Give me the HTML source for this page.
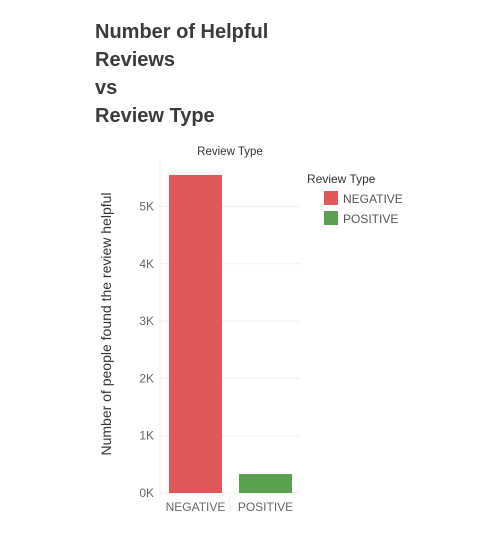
<!DOCTYPE html>
<html><head><meta charset="utf-8"><style>
body{margin:0;background:#fff;width:502px;height:534px;overflow:hidden;font-family:"Liberation Sans",sans-serif}
</style></head><body>
<svg width="502" height="534">
<g font-size="20" font-weight="bold" fill="#3a3a3a">
<text x="95" y="38">Number of Helpful</text>
<text x="95" y="66">Reviews</text>
<text x="95" y="94">vs</text>
<text x="95" y="122">Review Type</text>
</g>
<text x="230" y="155" font-size="11.5" text-anchor="middle" fill="#333">Review Type</text>
<text transform="translate(111,324) rotate(-90)" font-size="14" text-anchor="middle" fill="#333">Number of people found the review helpful</text>
<g id="grid"></g><g id="bars"></g><g id="ticks"></g>
<line x1="160" y1="160" x2="160" y2="500" stroke="#eee"/>
<line x1="230" y1="496" x2="230" y2="512" stroke="#eee"/>
<g>
<text x="307" y="183" font-size="12" fill="#333">Review Type</text>
<rect x="324" y="191" width="14" height="14" fill="#e15759"/>
<text x="343" y="203" font-size="12" fill="#555">NEGATIVE</text>
<rect x="324" y="211" width="14" height="14" fill="#59a14f"/>
<text x="343" y="223" font-size="12" fill="#555">POSITIVE</text>
</g>
</svg>
<script>
const categories=["NEGATIVE","POSITIVE"];
const values=[5550,330];
const colors=["#e15759","#59a14f"];
const tickValues=[0,1000,2000,3000,4000,5000];
const tickLabels=["0K","1K","2K","3K","4K","5K"];
const NS="http://www.w3.org/2000/svg";
const y=v=>493-v*0.0573;
const x=i=>169+i*70;
const grid=document.getElementById('grid'),bars=document.getElementById('bars'),ticks=document.getElementById('ticks');
tickValues.forEach((v,i)=>{
 const l=document.createElementNS(NS,'line');
 l.setAttribute('x1',160);l.setAttribute('x2',300);l.setAttribute('y1',y(v));l.setAttribute('y2',y(v));l.setAttribute('stroke','#efefef');
 
 
 grid.appendChild(l);
 const t=document.createElementNS(NS,'text');
 t.setAttribute('x',154);t.setAttribute('y',y(v)+4);t.setAttribute('text-anchor','end');t.setAttribute('font-size','12');t.setAttribute('fill','#666');
 t.textContent=tickLabels[i];
 
 
 ticks.appendChild(t);
});
categories.forEach((c,i)=>{
 const r=document.createElementNS(NS,'rect');
 r.setAttribute('x',x(i));r.setAttribute('width',53);r.setAttribute('y',y(values[i]));r.setAttribute('height',y(0)-y(values[i]));r.setAttribute('fill',colors[i]);
 
 
 bars.appendChild(r);
 const t=document.createElementNS(NS,'text');
 t.setAttribute('x',x(i)+26.5);t.setAttribute('y',511);t.setAttribute('text-anchor','middle');t.setAttribute('font-size','12');t.setAttribute('fill','#666');
 t.textContent=c;
 
 
 ticks.appendChild(t);
});
</script>
</body></html>
